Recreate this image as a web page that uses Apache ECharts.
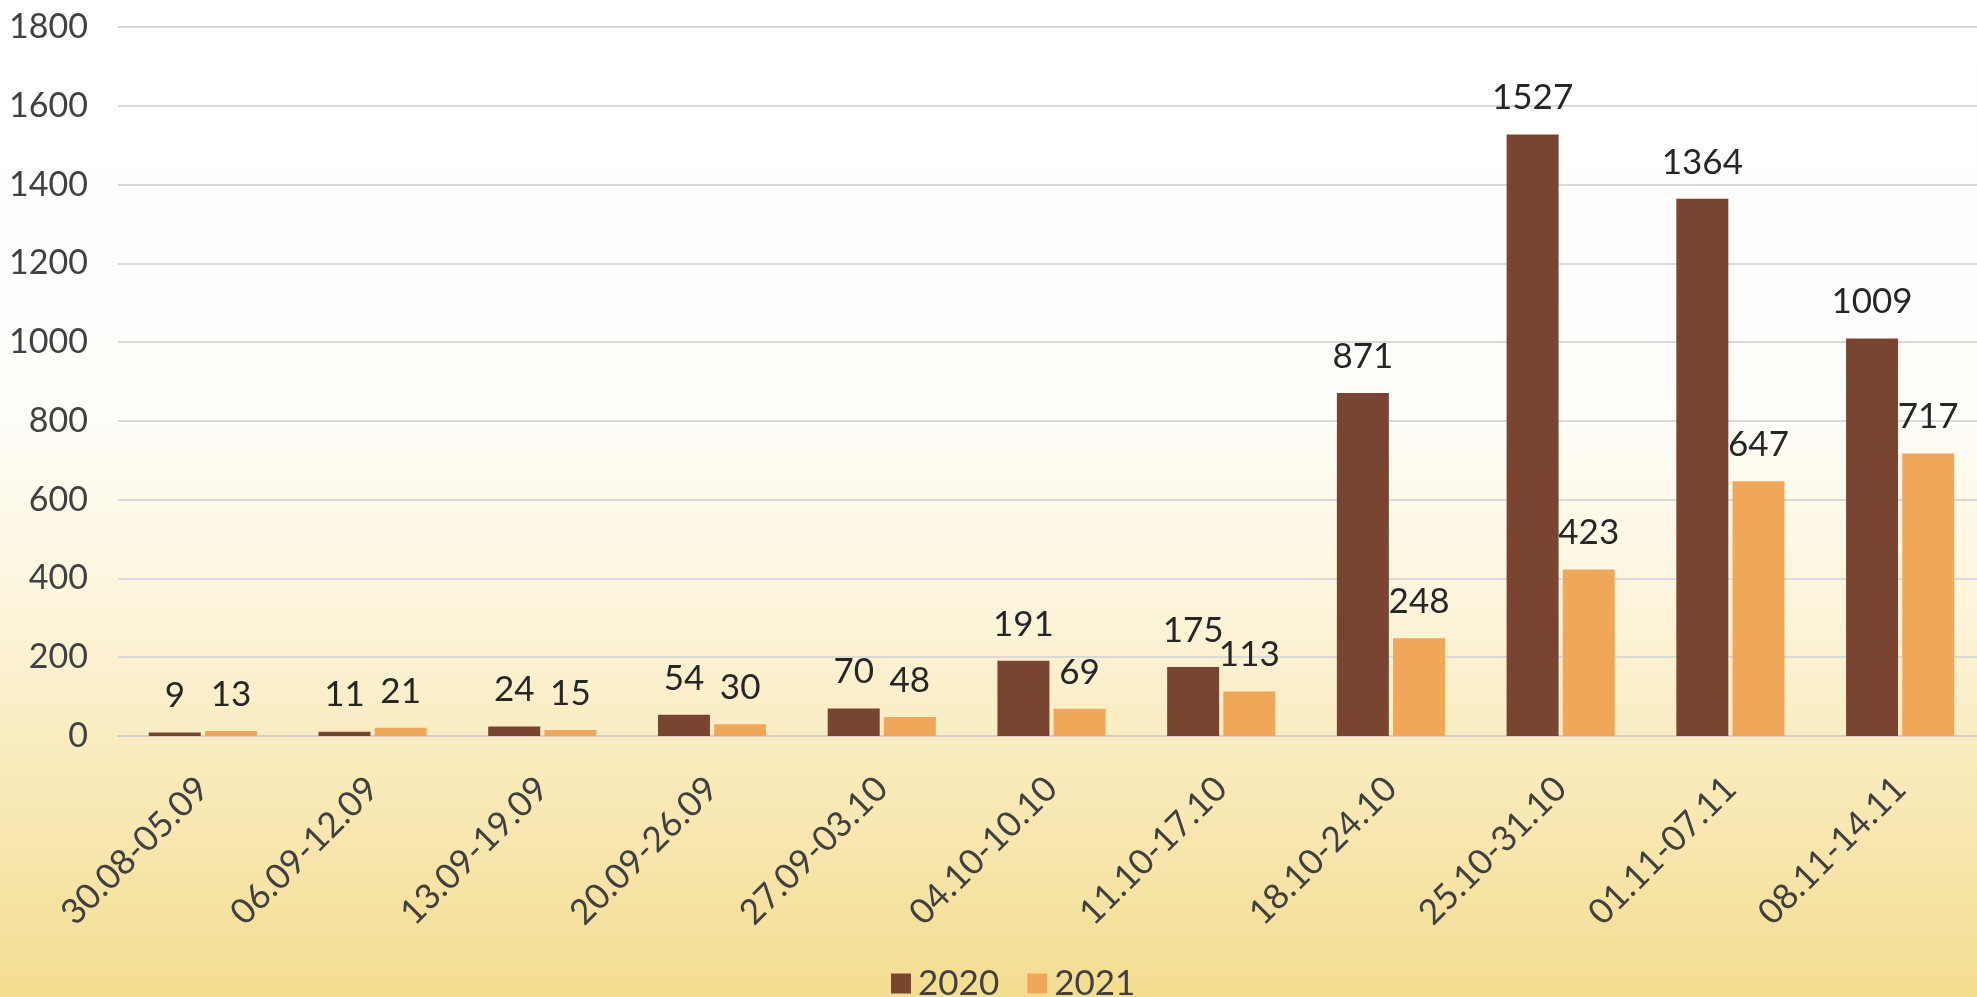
<!DOCTYPE html>
<html>
<head>
<meta charset="utf-8">
<style>
html,body{margin:0;padding:0;width:1977px;height:997px;overflow:hidden;}
#chart{width:1977px;height:997px;}
</style>
<script src="https://cdn.jsdelivr.net/npm/echarts@6/dist/echarts.min.js"></script>
</head>
<body>
<div id="chart"></div>
<script>
const categories = ['30.08-05.09','06.09-12.09','13.09-19.09','20.09-26.09','27.09-03.10','04.10-10.10','11.10-17.10','18.10-24.10','25.10-31.10','01.11-07.11','08.11-14.11'];
const values2020 = [9, 11, 24, 54, 70, 191, 175, 871, 1527, 1364, 1009];
const values2021 = [13, 21, 15, 30, 48, 69, 113, 248, 423, 647, 717];
const seriesNames = ['2020', '2021'];
const yTicks = { min: 0, max: 1800, interval: 200 };

const FONT = 'Lato';
const chart = echarts.init(document.getElementById('chart'));
const labelStyle = { show: true, position: 'top', distance: 19, color: '#262626', fontSize: 35, fontFamily: FONT };
chart.setOption({
  animation: false,
  backgroundColor: {
    type: 'linear', x: 0, y: 0, x2: 0, y2: 1,
    colorStops: [
      { offset: 0, color: '#ffffff' },
      { offset: 0.4, color: '#fffefb' },
      { offset: 0.6, color: '#fcf5dc' },
      { offset: 0.8, color: '#f8e9b6' },
      { offset: 1, color: '#f3dd90' }
    ]
  },
  grid: { left: 118, width: 1867, top: 27, height: 709, containLabel: false, outerBoundsMode: 'none' },
  legend: {
    data: seriesNames,
    left: 886, top: 961,
    itemWidth: 20, itemHeight: 20, itemGap: 28,
    icon: 'rect',
    textStyle: { color: '#404040', fontSize: 35, fontFamily: FONT, padding: [0, 0, 0, 2] }
  },
  xAxis: {
    type: 'category',
    data: categories,
    axisLine: { show: true, lineStyle: { color: '#d0d0d0', width: 2 } },
    axisTick: { show: false },
    axisLabel: { rotate: 45, margin: 47, color: '#404040', fontSize: 35, fontFamily: FONT, interval: 0 }
  },
  yAxis: {
    type: 'value',
    min: yTicks.min, max: yTicks.max, interval: yTicks.interval,
    axisLine: { show: false },
    axisTick: { show: false },
    splitLine: { lineStyle: { color: '#d9d9d9', width: 2 } },
    axisLabel: { margin: 30, color: '#404040', fontSize: 34, fontFamily: FONT, formatter: v => String(v) }
  },
  series: [
    { name: seriesNames[0], type: 'bar', data: values2020, barWidth: 52, barGap: '8%', itemStyle: { color: '#7a4530' }, label: labelStyle },
    { name: seriesNames[1], type: 'bar', data: values2021, barWidth: 52, itemStyle: { color: '#f0a758' }, label: labelStyle }
  ]
});
</script>
</body>
</html>
